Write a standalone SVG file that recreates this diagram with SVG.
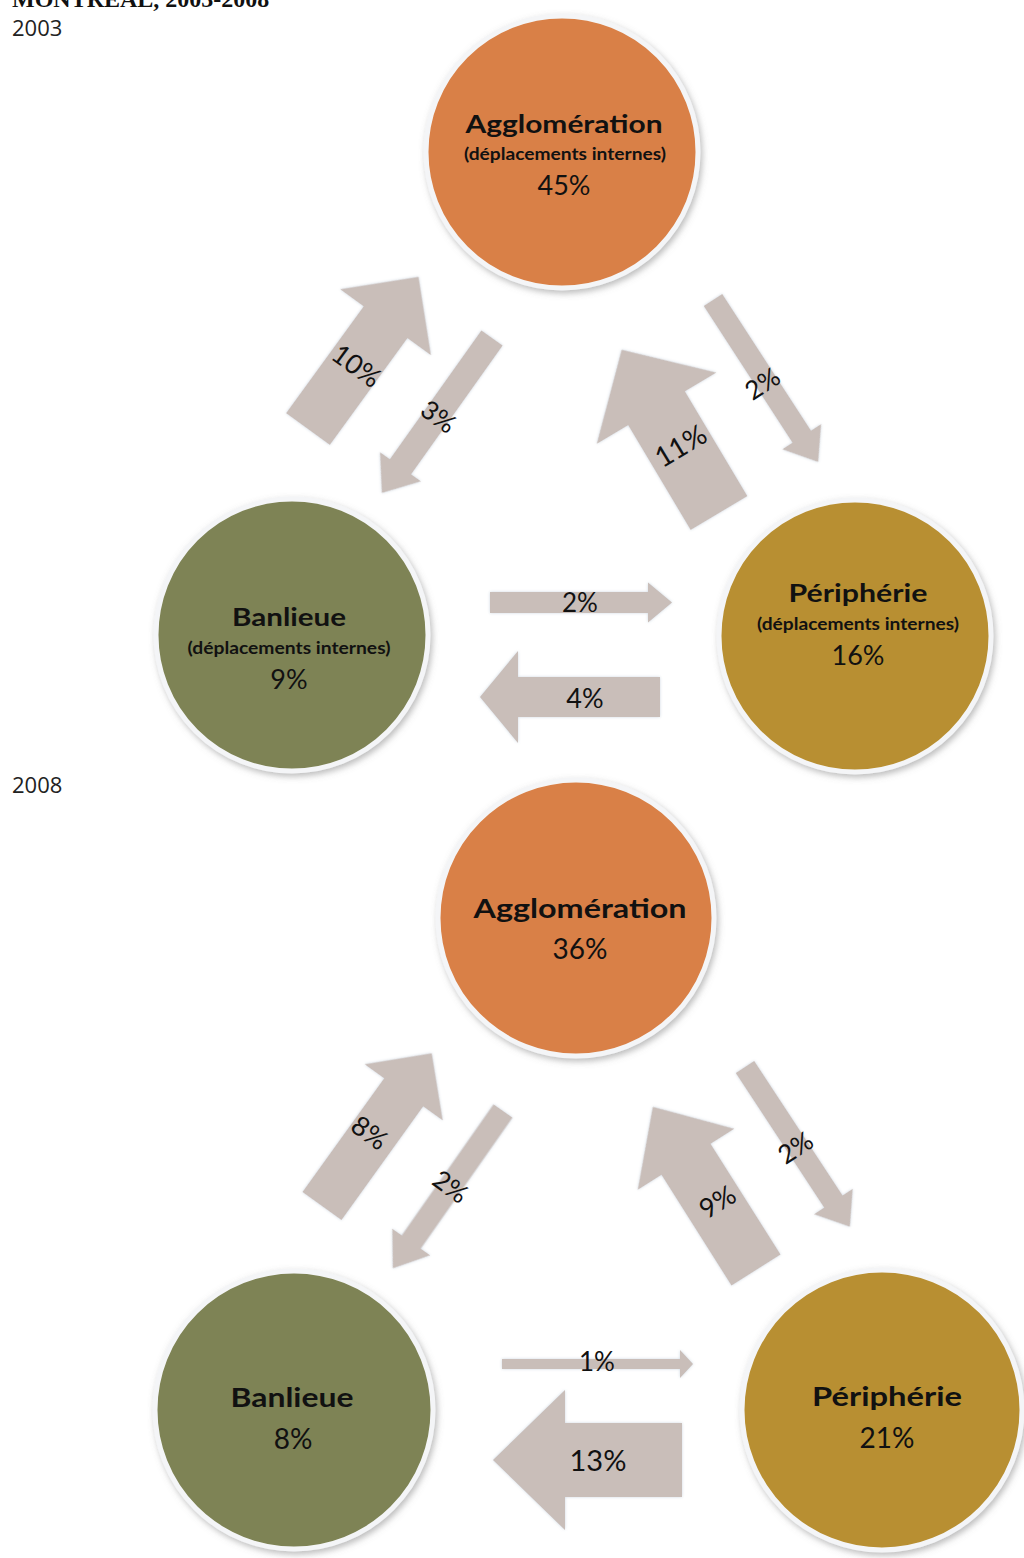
<svg xmlns="http://www.w3.org/2000/svg" width="1024" height="1558" viewBox="0 0 1024 1558">
<defs>
<filter id="sh" x="-10%" y="-10%" width="125%" height="125%">
<feDropShadow dx="2" dy="3" stdDeviation="3" flood-color="#7a7a7a" flood-opacity="0.5"/>
</filter>
<filter id="glow" x="-10%" y="-10%" width="120%" height="120%">
<feDropShadow dx="0" dy="0" stdDeviation="1.5" flood-color="#c9d3de" flood-opacity="0.9"/>
</filter>
</defs>
<style>
.c{stroke:#f4f5f7;stroke-width:5;filter:url(#sh)}
.ag{fill:#d98046}
.ba{fill:#7e8354}
.pe{fill:#b88f31}
.ar{fill:#c9beb9;filter:url(#glow)}
.t{font-family:Lato,"Open Sans","Liberation Sans",sans-serif;fill:#111;text-anchor:middle}
.b{font-weight:bold}
.lbl{font-family:Lato,"Open Sans","Liberation Sans",sans-serif;fill:#111;text-anchor:middle;dominant-baseline:central}
.yr{font-family:"Open Sans","Liberation Sans",sans-serif;font-size:22px;fill:#222}
</style>
<rect width="1024" height="1558" fill="#ffffff"/>
<text x="12" y="7" font-family="'Liberation Serif',serif" font-weight="bold" font-size="24" fill="#111">MONTREAL, 2003-2008</text>
<text class="yr" x="12" y="36">2003</text>
<text class="yr" x="12" y="793">2008</text>

<g id="connectors">
<g id="a2003-ban-agg"><polygon class="ar" transform="translate(308,429) rotate(-54)" points="0,-27 132,-27 132,-56 188,0 132,56 132,27 0,27"/><text class="lbl" font-size="27" transform="translate(357,365) rotate(36)">10%</text></g>
<g id="a2003-agg-ban"><polygon class="ar" transform="translate(492,338) rotate(125.4)" points="0,-13 158,-13 158,-25 190,0 158,25 158,13 0,13"/><text class="lbl" font-size="26" transform="translate(439,416) rotate(36)">3%</text></g>
<g id="a2003-per-agg"><polygon class="ar" transform="translate(719,513) rotate(-120.8)" points="0,-33 122,-33 122,-69.5 190,0 122,69.5 122,33 0,33"/><text class="lbl" font-size="28" transform="translate(680,445) rotate(-31)">11%</text></g>
<g id="a2003-agg-per"><polygon class="ar" transform="translate(713,300) rotate(57)" points="0,-11 163,-11 163,-23 193,0 163,23 163,11 0,11"/><text class="lbl" font-size="26" transform="translate(762,383) rotate(-33)">2%</text></g>
<g id="a2003-ban-per"><polygon class="ar" transform="translate(490,602.5) rotate(0)" points="0,-10.5 158,-10.5 158,-20 182,0 158,20 158,10.5 0,10.5"/><text class="lbl" font-size="26" x="580" y="602">2%</text></g>
<g id="a2003-per-ban"><polygon class="ar" transform="translate(660,697) rotate(180)" points="0,-20 142,-20 142,-46 180,0 142,46 142,20 0,20"/><text class="lbl" font-size="27" x="585" y="697">4%</text></g>

<g id="a2008-ban-agg"><polygon class="ar" transform="translate(322,1206) rotate(-54.3)" points="0,-24 140,-24 140,-48 188,0 140,48 140,24 0,24"/><text class="lbl" font-size="27" transform="translate(370,1132) rotate(36)">8%</text></g>
<g id="a2008-agg-ban"><polygon class="ar" transform="translate(503,1111) rotate(125)" points="0,-11.5 160,-11.5 160,-23 192,0 160,23 160,11.5 0,11.5"/><text class="lbl" font-size="26" transform="translate(451,1186) rotate(36)">2%</text></g>
<g id="a2008-per-agg"><polygon class="ar" transform="translate(756,1270) rotate(-122.3)" points="0,-29 131,-29 131,-57 193,0 131,57 131,29 0,29"/><text class="lbl" font-size="27" transform="translate(717,1201) rotate(-32)">9%</text></g>
<g id="a2008-agg-per"><polygon class="ar" transform="translate(745,1067) rotate(56.7)" points="0,-11 161,-11 161,-23 191,0 161,23 161,11 0,11"/><text class="lbl" font-size="26" transform="translate(795,1147) rotate(-33)">2%</text></g>
<g id="a2008-ban-per"><polygon class="ar" transform="translate(502,1364) rotate(0)" points="0,-5 178,-5 178,-14 191,0 178,14 178,5 0,5"/><text class="lbl" font-size="26" x="597" y="1361">1%</text></g>
<g id="a2008-per-ban"><polygon class="ar" transform="translate(682,1460) rotate(180)" points="0,-37 117,-37 117,-70 189,0 117,70 117,37 0,37"/><text class="lbl" font-size="29" x="598" y="1459">13%</text></g>
</g>

<g id="n2003-agglomeration">
<circle class="c ag" cx="562" cy="152" r="136"/>
<text class="t b" x="564" y="133" font-size="25" textLength="197" lengthAdjust="spacingAndGlyphs">Agglomération</text>
<text class="t b" x="565" y="160" font-size="17" textLength="202" lengthAdjust="spacingAndGlyphs">(déplacements internes)</text>
<text class="t" x="564" y="195" font-size="27">45%</text>
</g>
<g id="n2003-banlieue">
<circle class="c ba" cx="292" cy="635" r="136"/>
<text class="t b" x="289" y="626" font-size="25" textLength="114" lengthAdjust="spacingAndGlyphs">Banlieue</text>
<text class="t b" x="289" y="654" font-size="17" textLength="203" lengthAdjust="spacingAndGlyphs">(déplacements internes)</text>
<text class="t" x="289" y="689" font-size="27">9%</text>
</g>
<g id="n2003-peripherie">
<circle class="c pe" cx="855" cy="636" r="136"/>
<text class="t b" x="858" y="602" font-size="25" textLength="139" lengthAdjust="spacingAndGlyphs">Périphérie</text>
<text class="t b" x="858" y="630" font-size="17" textLength="202" lengthAdjust="spacingAndGlyphs">(déplacements internes)</text>
<text class="t" x="858" y="665" font-size="27">16%</text>
</g>

<g id="n2008-agglomeration">
<circle class="c ag" cx="576" cy="918" r="138"/>
<text class="t b" x="580" y="918" font-size="27" textLength="213" lengthAdjust="spacingAndGlyphs">Agglomération</text>
<text class="t" x="580" y="959" font-size="28">36%</text>
</g>
<g id="n2008-banlieue">
<circle class="c ba" cx="294" cy="1410" r="139"/>
<text class="t b" x="292" y="1407" font-size="27" textLength="123" lengthAdjust="spacingAndGlyphs">Banlieue</text>
<text class="t" x="293" y="1449" font-size="28">8%</text>
</g>
<g id="n2008-peripherie">
<circle class="c pe" cx="882" cy="1410" r="140"/>
<text class="t b" x="887" y="1406" font-size="27" textLength="150" lengthAdjust="spacingAndGlyphs">Périphérie</text>
<text class="t" x="887" y="1448" font-size="28">21%</text>
</g>
</svg>
